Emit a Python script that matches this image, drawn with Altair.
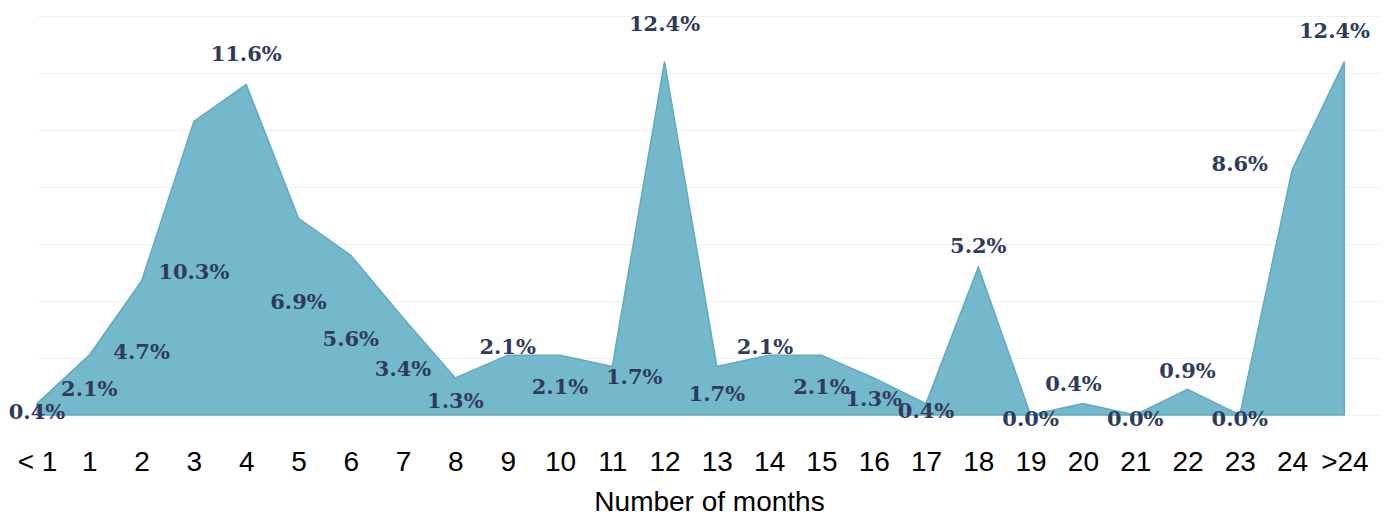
import json
import altair as alt
import pandas as pd

# ---- data ----
categories = ["< 1", "1", "2", "3", "4", "5", "6", "7", "8", "9", "10", "11", "12",
              "13", "14", "15", "16", "17", "18", "19", "20", "21", "22", "23", "24", ">24"]
values = [0.4, 2.1, 4.7, 10.3, 11.6, 6.9, 5.6, 3.4, 1.3, 2.1, 2.1, 1.7, 12.4,
          1.7, 2.1, 2.1, 1.3, 0.4, 5.2, 0.0, 0.4, 0.0, 0.9, 0.0, 8.6, 12.4]
# where each value label sits, in data units (% on y, category steps on x)
label_level = [0.07, 0.88, 2.18, 4.98, 12.63, 3.93, 2.63, 1.58, 0.46, 2.35, 0.95, 1.30, 13.68,
               0.70, 2.35, 0.95, 0.53, 0.10, 5.89, -0.18, 1.05, -0.18, 1.51, -0.18, 8.77, 13.44]
label_shift = [0, 0, 0, 0, 0, 0, 0, 0, 0, 0, 0, 0.42, 0,
               0, -0.08, 0, 0, 0, 0, 0, -0.18, 0, 0, 0, -1.0, -0.19]

idx = list(range(len(categories)))
df = pd.DataFrame({
    "idx": idx,
    "month": categories,
    "value": values,
    "label": [f"{v:.1f}%" for v in values],
    "lx": [i + s for i, s in zip(idx, label_shift)],
    "ly": label_level,
})

label_expr = json.dumps(categories) + "[datum.value]"

x_scale = alt.Scale(domain=[0, 25.7], nice=False, zero=False)
y_scale = alt.Scale(domain=[0, 14], nice=False)

base = alt.Chart(df)

area = base.mark_area(
    interpolate="linear", color="#74b8cc", stroke="#63a9c1", strokeWidth=1.5, opacity=1
).encode(
    x=alt.X("idx:Q", scale=x_scale,
            axis=alt.Axis(values=idx, labelExpr=label_expr, grid=False, domain=False,
                          ticks=False, tickSize=0, labelPadding=33, labelFontSize=28,
                          labelFont="Liberation Sans", labelColor="#000000",
                          labelFlush=False, labelOverlap=False,
                          title="Number of months", titleFontSize=28,
                          titleFont="Liberation Sans", titleFontWeight="normal",
                          titleColor="#000000", titlePadding=12)),
    y=alt.Y("value:Q", scale=y_scale,
            axis=alt.Axis(values=[0, 2, 4, 6, 8, 10, 12, 14], labels=False, ticks=False,
                          domain=False, title=None, grid=True, gridColor="#f0f0f0",
                          gridWidth=1)),
)

text = base.mark_text(
    font="DejaVu Serif", fontWeight="bold", fontSize=21, color="#2f3b5c",
    align="center", baseline="middle"
).encode(
    x=alt.X("lx:Q", scale=x_scale),
    y=alt.Y("ly:Q", scale=y_scale),
    text="label:N",
)

chart = alt.layer(area, text).properties(
    width=1344, height=399,
    autosize=alt.AutoSizeParams(type="none"),
    padding={"left": 29, "top": 8, "right": 0, "bottom": 100},
).configure(background="#ffffff").configure_axis(
    domain=False
).configure_view(stroke="transparent", strokeWidth=0)

chart.save("out.html", embed_options={"renderer": "svg", "actions": False})
